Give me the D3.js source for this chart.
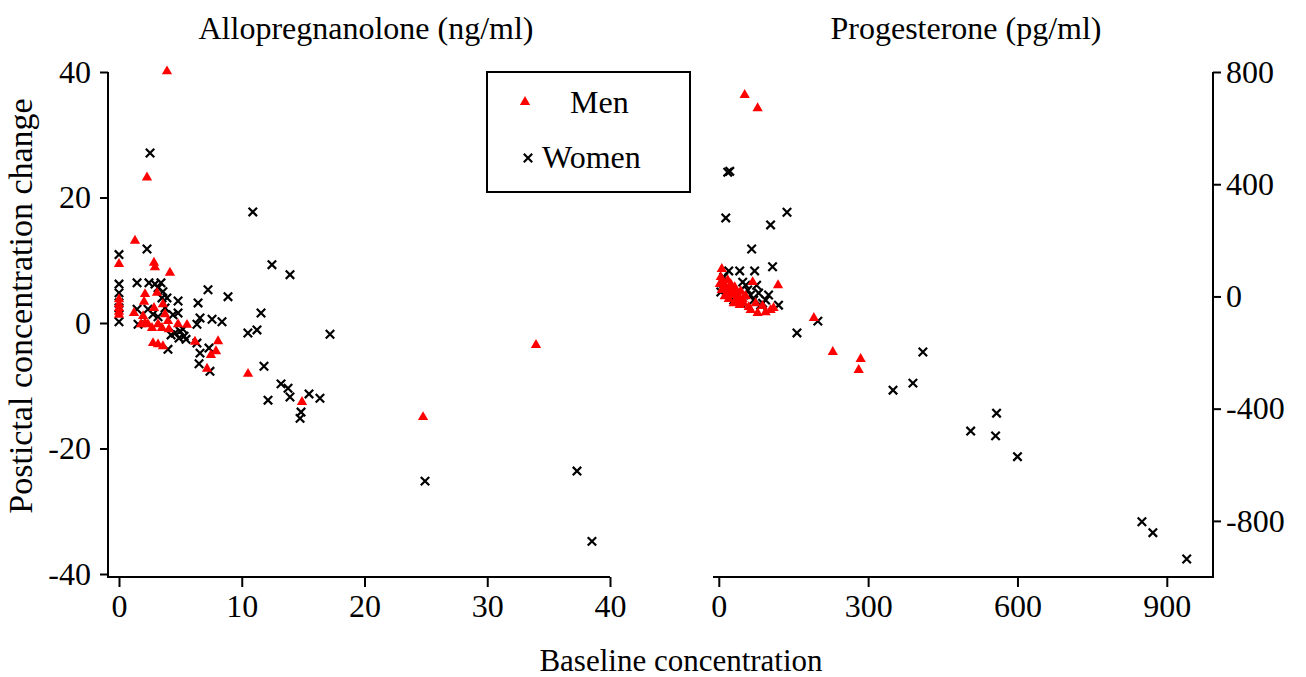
<!DOCTYPE html>
<html>
<head>
<meta charset="utf-8">
<script src="https://cdn.jsdelivr.net/npm/d3@7"></script>
<style>
  body { margin: 0; background: #fff; }
  text { font-family: "Liberation Serif", "Times New Roman", serif; fill: #000; }
</style>
</head>
<body>
<div id="chart"></div>
<script>
// chart size
let width = 1306
let height = 677

// tick labels
const leftXTicks = [0, 10, 20, 30, 40]
const leftYTicks = [-40, -20, 0, 20, 40]
const rightXTicks = [0, 300, 600, 900]
const rightYTicks = [-800, -400, 0, 400, 800]

// Allopregnanolone (ng/ml): [baseline, change]
const alloMen = [
  [3.91, 40.1], [2.28, 23.2], [1.30, 13.1], [0, 9.4], [2.85, 9.6], [2.93, 8.9],
  [4.15, 8.0], [0, 3.8], [0, 3.0], [0, 2.4], [0, 1.8], [0, 1.3], [2.12, 4.6],
  [2.04, 3.4], [3.10, 4.8], [3.58, 3.0], [2.85, 2.4], [1.22, 1.6], [3.75, 1.4],
  [1.96, 1.1], [2.12, 0], [1.79, -0.2], [2.36, -0.2], [2.69, -0.8], [3.18, -0.2],
  [3.50, -0.8], [3.99, 0.3], [4.07, -1.0], [4.81, -0.2], [5.54, -0.3], [6.19, -3.0],
  [2.77, -3.2], [3.18, -3.4], [3.58, -3.7], [8.07, -2.9], [7.90, -4.5], [7.49, -5.1],
  [7.17, -7.3], [10.51, -8.1], [14.91, -12.6], [24.77, -15.0], [33.97, -3.5]
]
const alloWomen = [
  [2.53, 27.1], [10.9, 17.7], [2.28, 11.8], [0, 10.9], [0, 6.2], [0, 4.8], [0, 3.2],
  [0, 2.4], [0, 0.2], [1.47, 6.4], [2.44, 6.4], [2.93, 6.2], [3.42, 6.4], [3.18, 5.6],
  [3.58, 5.0], [3.91, 4.0], [3.5, 4.0], [4.81, 3.5], [6.44, 3.2], [7.25, 5.3],
  [8.88, 4.2], [12.46, 9.3], [13.93, 7.7], [11.57, 1.6], [1.47, 2.2], [2.36, 2.2],
  [2.77, 1.4], [3.18, 1.0], [3.75, 2.4], [4.4, 1.3], [4.81, 1.6], [1.55, -0.2],
  [4.56, -1.6], [4.97, -1.3], [5.3, -2.1], [5.46, -2.6], [4.89, -2.4], [4.24, -1.9],
  [5.21, -1.0], [6.35, -0.2], [6.6, 0.8], [7.58, 0.6], [8.39, 0.2], [10.5, -1.6],
  [11.24, -1.1], [17.19, -1.8], [6.35, -3.2], [6.6, -4.8], [7.33, -4.0], [6.52, -6.5],
  [3.99, -4.2], [7.41, -7.7], [11.81, -6.9], [13.2, -9.7], [13.77, -10.4],
  [13.93, -11.8], [12.14, -12.3], [15.48, -11.3], [16.37, -12.0], [14.83, -14.2],
  [14.75, -15.2], [24.93, -25.2], [37.31, -23.6], [38.53, -34.8]
]

// Progesterone (pg/ml): [baseline, change]
const progMen = [
  [52, 718], [78, 671], [6, 98], [68, 51], [119, 40], [191, -77], [229, -198],
  [285, -223], [281, -262], [4, 69], [8, 51], [12, 37], [6, 23], [16, 12], [22, 26],
  [28, 5], [34, -13], [40, -2], [18, 58], [24, 44], [32, 33], [44, 19], [12, 1],
  [20, -9], [30, -24], [50, -24], [60, -38], [74, -24], [78, -59], [64, -48],
  [104, -48], [110, -41], [2, 44], [36, 16], [48, -9], [54, 1], [26, 19], [14, 30],
  [42, -31], [88, -34], [94, -56]
]
const progWomen = [
  [18, 443], [22, 446], [14, 280], [66, 169], [104, 255], [137, 300], [108, 106],
  [20, 91], [42, 91], [72, 91], [10, 69], [58, 23], [80, 12], [88, -24], [120, -31],
  [199, -88], [157, -130], [410, -198], [390, -309], [350, -334], [558, -416],
  [506, -480], [556, -497], [600, -571], [850, -803], [872, -842], [940, -936],
  [54, 40], [64, 5], [70, -13], [84, -31], [94, -13], [48, 51], [30, -13], [8, 48],
  [4, 16], [44, -24], [100, 5], [76, 40]
]

let svg = d3.select("#chart")
  .append("svg")
  .attr("width", width)
  .attr("height", height)

// scales
let xL = d3.scaleLinear().domain([0, 40]).range([119, 610])
let yL = d3.scaleLinear().domain([-40, 40]).range([574, 72])
let xR = d3.scaleLinear().domain([0, 900]).range([718.8, 1166.8])
let yR = d3.scaleLinear().domain([-1000, 800]).range([577, 72])

const fontSize = "32px"
// plain hyphen for negatives, like the original
const fmt = d => String(d)

function styleAxis(g) {
  g.selectAll("path").attr("stroke", "#000").attr("stroke-width", 2)
  g.selectAll("line").attr("stroke", "#000").attr("stroke-width", 2)
  g.selectAll("text")
    .style("font-family", '"Liberation Serif", "Times New Roman", serif')
    .style("font-size", fontSize)
    .attr("fill", "#000")
}

// left panel axes
let gLy = svg.append("g")
  .attr("transform", "translate(108,0)")
  .call(d3.axisLeft(yL).tickValues(leftYTicks).tickSize(8).tickSizeOuter(0).tickPadding(9).tickFormat(fmt))
gLy.select(".domain").attr("d", "M0," + yL(40) + "V577")
styleAxis(gLy)

let gLx = svg.append("g")
  .attr("transform", "translate(0,577)")
  .call(d3.axisBottom(xL).tickValues(leftXTicks).tickSize(10).tickSizeOuter(0).tickPadding(7).tickFormat(fmt))
gLx.select(".domain").attr("d", "M107,0H" + xL(40))
styleAxis(gLx)

// right panel axes
let gRy = svg.append("g")
  .attr("transform", "translate(1213,0)")
  .call(d3.axisRight(yR).tickValues(rightYTicks).tickSize(8).tickSizeOuter(0).tickPadding(5).tickFormat(fmt))
gRy.select(".domain").attr("d", "M0," + yR(800) + "V578")
styleAxis(gRy)

let gRx = svg.append("g")
  .attr("transform", "translate(0,577)")
  .call(d3.axisBottom(xR).tickValues(rightXTicks).tickSize(10).tickSizeOuter(0).tickPadding(7).tickFormat(fmt))
gRx.select(".domain").attr("d", "M713,0H1214")
styleAxis(gRx)

// markers
let tri = d3.symbol().type(d3.symbolTriangle).size(46)
let cross = d3.symbol().type(d3.symbolTimes).size(48)

function drawWomen(data, x, y) {
  svg.append("g").selectAll("path")
    .data(data)
    .enter()
    .append("path")
    .attr("d", cross)
    .attr("transform", d => "translate(" + x(d[0]) + "," + y(d[1]) + ")")
    .attr("fill", "none")
    .attr("stroke", "#000")
    .attr("stroke-width", 2.2)
}

function drawMen(data, x, y) {
  svg.append("g").selectAll("path")
    .data(data)
    .enter()
    .append("path")
    .attr("d", tri)
    .attr("transform", d => "translate(" + x(d[0]) + "," + y(d[1]) + ")")
    .attr("fill", "#ff0000")
}

drawWomen(alloWomen, xL, yL)
drawMen(alloMen, xL, yL)
drawWomen(progWomen, xR, yR)
drawMen(progMen, xR, yR)

// titles
svg.append("text").attr("x", 366).attr("y", 39).attr("text-anchor", "middle")
  .style("font-size", fontSize).text("Allopregnanolone (ng/ml)")
svg.append("text").attr("x", 966).attr("y", 39).attr("text-anchor", "middle")
  .style("font-size", fontSize).text("Progesterone (pg/ml)")

svg.append("text")
  .attr("transform", "translate(32,306) rotate(-90)")
  .attr("text-anchor", "middle")
  .style("font-size", "34px")
  .text("Postictal concentration change")

svg.append("text").attr("x", 681).attr("y", 671).attr("text-anchor", "middle")
  .style("font-size", "31px").text("Baseline concentration")

// legend
let legend = svg.append("g")
legend.append("rect")
  .attr("x", 487).attr("y", 72).attr("width", 203).attr("height", 120)
  .attr("fill", "#fff").attr("stroke", "#000").attr("stroke-width", 2)
legend.append("path").attr("d", tri).attr("transform", "translate(525,102)").attr("fill", "#ff0000")
legend.append("text").attr("x", 570).attr("y", 113).style("font-size", fontSize).text("Men")
legend.append("path").attr("d", cross).attr("transform", "translate(528,158)")
  .attr("fill", "none").attr("stroke", "#000").attr("stroke-width", 2.2)
legend.append("text").attr("x", 542).attr("y", 168).style("font-size", fontSize).text("Women")
</script>
</body>
</html>
